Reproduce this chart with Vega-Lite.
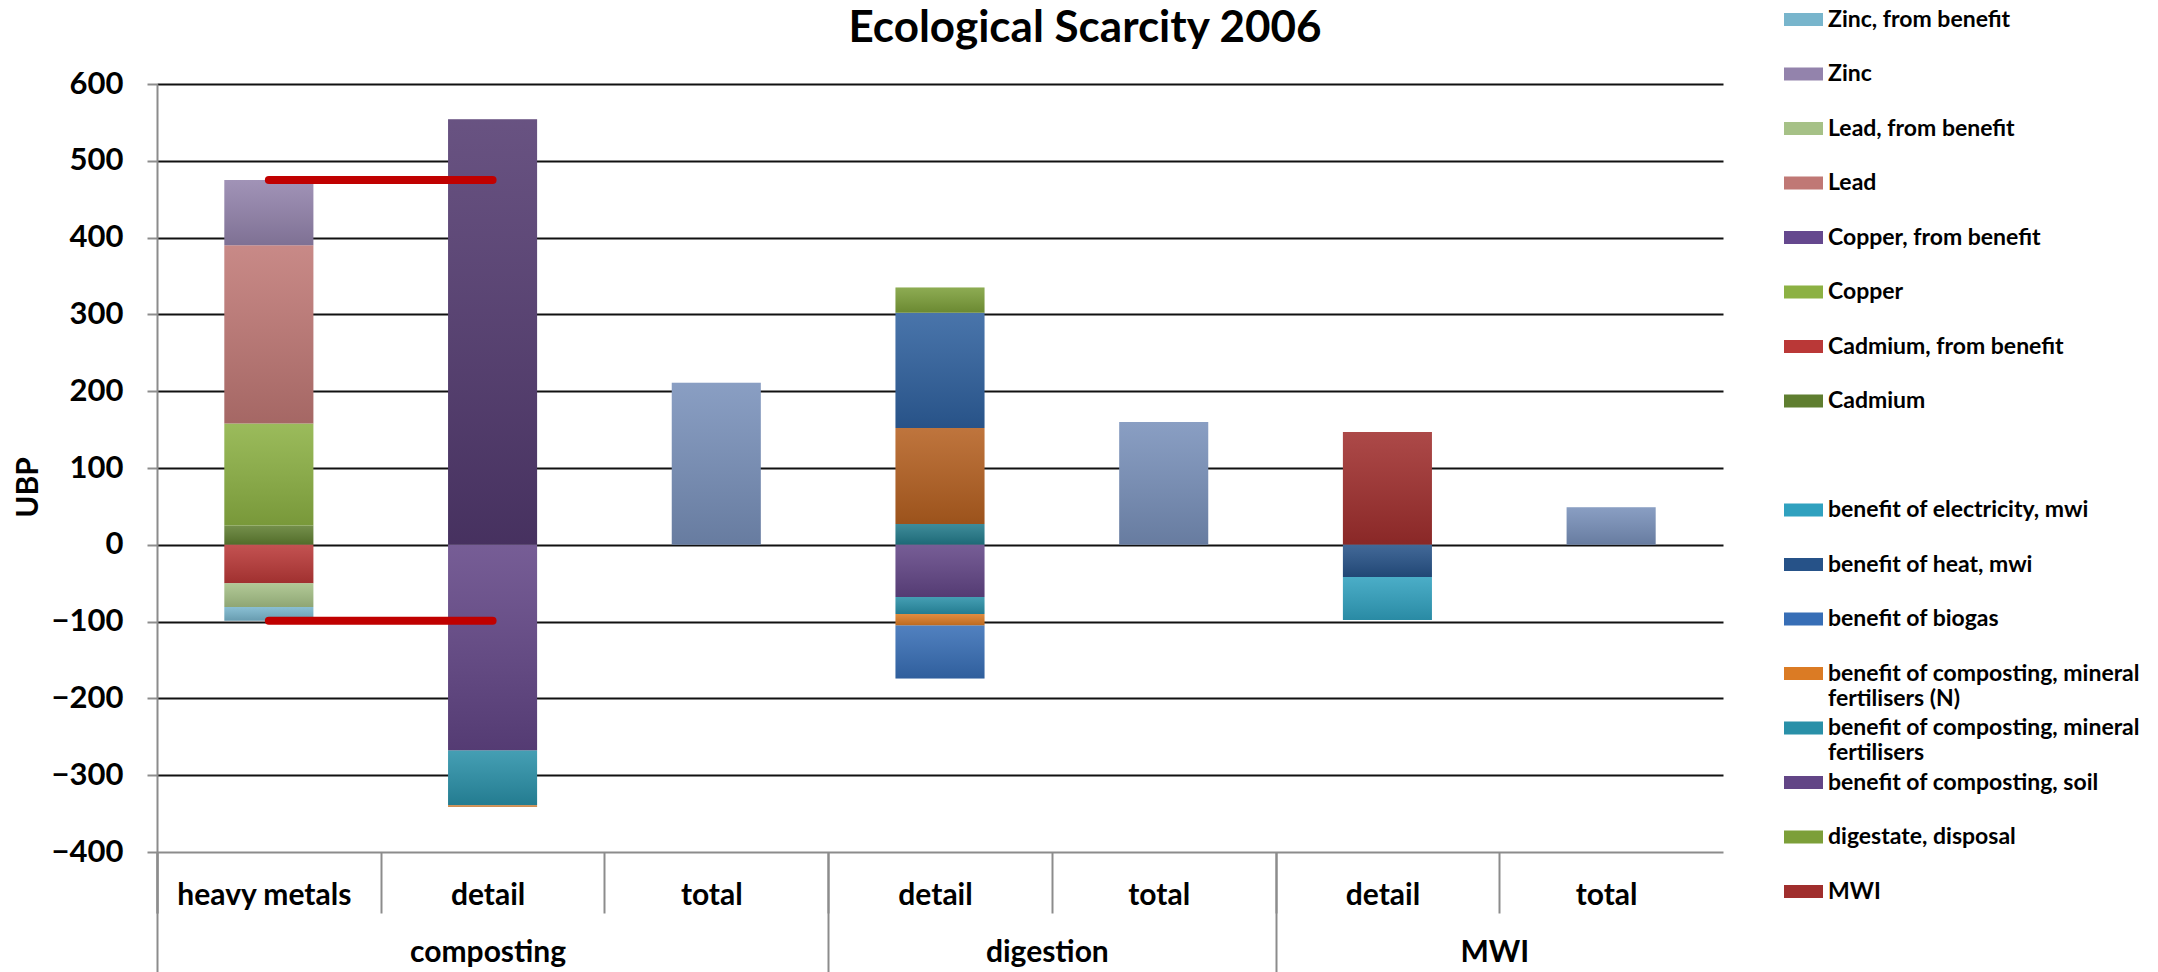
{
  "$schema": "https://vega.github.io/schema/vega-lite/v6.json",
  "width": 1566,
  "height": 768,
  "padding": {"left": 13, "top": 7, "right": 0, "bottom": 0},
  "background": "white",
  "title": {
    "text": "Ecological Scarcity 2006",
    "font": "Lato",
    "fontSize": 44,
    "fontWeight": "bold",
    "color": "black",
    "anchor": "middle",
    "offset": -43,
    "dx": 145
  },
  "config": {"view": {"stroke": null}, "font": "Lato"},
  "datasets": {
    "segments": [
      {"group": "composting", "column": "heavy metals", "key": "composting|heavy metals", "series": "Cadmium", "value": 25, "stack": 1},
      {"group": "composting", "column": "heavy metals", "key": "composting|heavy metals", "series": "Copper", "value": 133, "stack": 2},
      {"group": "composting", "column": "heavy metals", "key": "composting|heavy metals", "series": "Lead", "value": 232, "stack": 3},
      {"group": "composting", "column": "heavy metals", "key": "composting|heavy metals", "series": "Zinc", "value": 85, "stack": 4},
      {"group": "composting", "column": "heavy metals", "key": "composting|heavy metals", "series": "Cadmium, from benefit", "value": -50, "stack": 1},
      {"group": "composting", "column": "heavy metals", "key": "composting|heavy metals", "series": "Lead, from benefit", "value": -31, "stack": 2},
      {"group": "composting", "column": "heavy metals", "key": "composting|heavy metals", "series": "Zinc, from benefit", "value": -18, "stack": 3},
      {"group": "composting", "column": "detail", "key": "composting|detail", "series": "composting, process", "value": 554, "stack": 1},
      {"group": "composting", "column": "detail", "key": "composting|detail", "series": "benefit of composting, soil", "value": -268, "stack": 1},
      {"group": "composting", "column": "detail", "key": "composting|detail", "series": "benefit of composting, mineral fertilisers", "value": -71, "stack": 2},
      {"group": "composting", "column": "detail", "key": "composting|detail", "series": "benefit of composting, mineral fertilisers (N)", "value": -2, "stack": 3},
      {"group": "composting", "column": "total", "key": "composting|total", "series": "total", "value": 211, "stack": 1},
      {"group": "digestion", "column": "detail", "key": "digestion|detail", "series": "digestion, part 1", "value": 27, "stack": 1},
      {"group": "digestion", "column": "detail", "key": "digestion|detail", "series": "digestion, part 2", "value": 125, "stack": 2},
      {"group": "digestion", "column": "detail", "key": "digestion|detail", "series": "digestion, part 3", "value": 150, "stack": 3},
      {"group": "digestion", "column": "detail", "key": "digestion|detail", "series": "digestate, disposal", "value": 33, "stack": 4},
      {"group": "digestion", "column": "detail", "key": "digestion|detail", "series": "benefit of composting, soil", "value": -68, "stack": 1},
      {"group": "digestion", "column": "detail", "key": "digestion|detail", "series": "benefit of composting, mineral fertilisers", "value": -22, "stack": 2},
      {"group": "digestion", "column": "detail", "key": "digestion|detail", "series": "benefit of composting, mineral fertilisers (N)", "value": -15, "stack": 3},
      {"group": "digestion", "column": "detail", "key": "digestion|detail", "series": "benefit of biogas", "value": -69, "stack": 4},
      {"group": "digestion", "column": "total", "key": "digestion|total", "series": "total", "value": 160, "stack": 1},
      {"group": "MWI", "column": "detail", "key": "MWI|detail", "series": "MWI", "value": 147, "stack": 1},
      {"group": "MWI", "column": "detail", "key": "MWI|detail", "series": "benefit of heat, mwi", "value": -42, "stack": 1},
      {"group": "MWI", "column": "detail", "key": "MWI|detail", "series": "benefit of electricity, mwi", "value": -56, "stack": 2},
      {"group": "MWI", "column": "total", "key": "MWI|total", "series": "total", "value": 49, "stack": 1}
    ],
    "heavyMetalShare": [
      {"from": "composting|heavy metals", "to": "composting|detail", "value": 475},
      {"from": "composting|heavy metals", "to": "composting|detail", "value": -99}
    ]
  },
  "layer": [
    {
      "data": {"name": "segments"},
      "mark": {"type": "bar"},
      "encoding": {
        "x": {
          "field": "key",
          "type": "nominal",
          "scale": {
            "domain": ["composting|heavy metals", "composting|detail", "composting|total", "digestion|detail", "digestion|total", "MWI|detail", "MWI|total"],
            "paddingInner": 0.602,
            "paddingOuter": 0.301
          },
          "axis": {
            "title": null,
            "labelExpr": "split(datum.value, '|')[1]",
            "labelAngle": 0,
            "labelFont": "Lato",
            "labelFontSize": 30,
            "labelFontWeight": "bold",
            "labelColor": "black",
            "labelBaseline": "middle",
            "labelPadding": -18,
            "labelOffset": 62.35,
            "labelOverlap": false,
            "labelLimit": 400,
            "bandPosition": 0,
            "tickOffset": -67.35,
            "tickExtra": true,
            "tickSize": 61,
            "tickColor": "#8c8c8c",
            "tickWidth": 2,
            "domainColor": "#8c8c8c",
            "domainWidth": 2,
            "grid": false
          }
        },
        "y": {
          "field": "value",
          "type": "quantitative",
          "stack": "zero",
          "scale": {"domain": [-400, 600], "nice": false},
          "axis": {
            "title": "UBP",
            "titleFont": "Lato",
            "titleFontSize": 30,
            "titleFontWeight": "bold",
            "titleColor": "black",
            "titlePadding": 8,
            "titleY": 403,
            "values": [-400, -300, -200, -100, 0, 100, 200, 300, 400, 500, 600],
            "labelFont": "Lato",
            "labelFontSize": 31,
            "labelFontWeight": "bold",
            "labelColor": "black",
            "labelPadding": 24,
            "tickSize": 10,
            "tickColor": "#8c8c8c",
            "tickWidth": 2,
            "domainColor": "#8c8c8c",
            "domainWidth": 2,
            "grid": true,
            "gridColor": "#111111",
            "gridWidth": 2,
            "gridOpacity": {"condition": {"test": "datum.value === -400", "value": 0}, "value": 1}
          }
        },
        "color": {
          "field": "series",
          "type": "nominal",
          "scale": {
            "domain": [
              "Zinc, from benefit", "Zinc", "Lead, from benefit", "Lead", "Copper, from benefit", "Copper",
              "Cadmium, from benefit", "Cadmium", " ",
              "benefit of electricity, mwi", "benefit of heat, mwi", "benefit of biogas",
              "benefit of composting, mineral fertilisers (N)", "benefit of composting, mineral fertilisers",
              "benefit of composting, soil", "digestate, disposal", "MWI",
              "composting, process", "digestion, part 1", "digestion, part 2", "digestion, part 3", "total"
            ],
            "range": [
              "#78b5cc", "#9383ac", "#a6c187", "#c07875", "#65488e", "#8cb143",
              "#ba3837", "#5f7e30", "transparent",
              "#30a1bf", "#265288", "#376eb6",
              "#db7b24", "#2990a8",
              "#624586", "#7c9f39", "#a02e2d",
              "#52396f", "#227a8a", "#b56020", "#2e609e", "#7890ba"
            ]
          },
          "legend": {
            "orient": "none",
            "legendX": 1635,
            "legendY": -76,
            "title": null,
            "padding": 0,
            "values": [
              "Zinc, from benefit", "Zinc", "Lead, from benefit", "Lead", "Copper, from benefit", "Copper",
              "Cadmium, from benefit", "Cadmium", " ",
              "benefit of electricity, mwi", "benefit of heat, mwi", "benefit of biogas",
              "benefit of composting, mineral fertilisers (N)", "benefit of composting, mineral fertilisers",
              "benefit of composting, soil", "digestate, disposal", "MWI"
            ],
            "labelExpr": "datum.label == 'benefit of composting, mineral fertilisers (N)' ? ['benefit of composting, mineral', 'fertilisers (N)'] : datum.label == 'benefit of composting, mineral fertilisers' ? ['benefit of composting, mineral', 'fertilisers'] : datum.label",
            "symbolType": "M-3,-1H3V1H-3Z",
            "symbolSize": 169,
            "symbolStrokeWidth": 0,
            "symbolOpacity": 1,
            "labelFont": "Lato",
            "labelFontSize": 23,
            "labelFontWeight": "bold",
            "labelColor": "black",
            "labelLimit": 600,
            "labelOffset": 13,
            "rowPadding": 5.5,
            "gridAlign": "all",
            "encoding": {"labels": {"update": {"lineHeight": {"value": 28}}}}
          }
        },
        "order": {"field": "stack", "type": "quantitative"}
      }
    },
    {
      "data": {"name": "segments"},
      "mark": {
        "type": "bar",
        "fill": {
          "gradient": "linear", "x1": 0, "y1": 0, "x2": 0, "y2": 1,
          "stops": [
            {"offset": 0, "color": "rgba(255,255,255,0.13)"},
            {"offset": 1, "color": "rgba(0,0,0,0.14)"}
          ]
        }
      },
      "encoding": {
        "x": {"field": "key", "type": "nominal", "axis": null},
        "y": {"field": "value", "type": "quantitative", "stack": "zero"},
        "detail": {"field": "series"},
        "order": {"field": "stack", "type": "quantitative"}
      }
    },
    {
      "data": {"name": "heavyMetalShare"},
      "mark": {"type": "rule", "color": "#c00000", "strokeWidth": 8, "strokeCap": "round"},
      "encoding": {
        "x": {
          "field": "from",
          "type": "nominal",
          "axis": {
            "title": null,
            "orient": "bottom",
            "domain": false,
            "labelExpr": "datum.value == 'composting|detail' ? 'composting' : datum.value == 'digestion|detail' ? 'digestion' : datum.value == 'MWI|detail' ? 'MWI' : ''",
            "labelOffset": {"condition": {"test": "datum.value == 'composting|detail'", "value": 62.35}, "value": 174.2},
            "labelAngle": 0,
            "labelFont": "Lato",
            "labelFontSize": 30,
            "labelFontWeight": "bold",
            "labelColor": "black",
            "labelBaseline": "middle",
            "labelPadding": -20,
            "labelOverlap": false,
            "labelLimit": 400,
            "bandPosition": 0,
            "tickOffset": -67.35,
            "tickExtra": true,
            "tickSize": 120,
            "tickColor": "#8c8c8c",
            "tickWidth": 2,
            "tickOpacity": {"condition": {"test": "datum.value == 'composting|heavy metals' || datum.value == 'digestion|detail' || datum.value == 'MWI|detail'", "value": 1}, "value": 0},
            "grid": false
          }
        },
        "x2": {"field": "to"},
        "y": {"field": "value", "type": "quantitative"}
      }
    }
  ],
  "resolve": {"axis": {"x": "independent"}}
}
